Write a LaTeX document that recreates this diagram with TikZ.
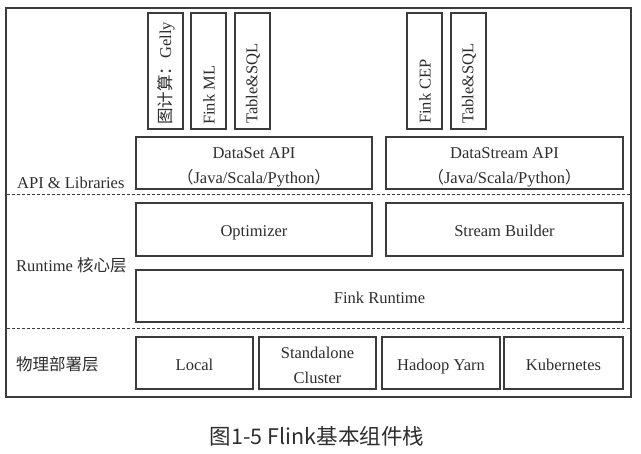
\documentclass[tikz,border=0pt]{standalone}
\usepackage{fontspec}
\setmainfont{Liberation Serif}
\newfontfamily\cjk{Noto Sans CJK SC}
\definecolor{linec}{HTML}{3C3C3C}
\definecolor{textc}{HTML}{2E2E2E}
\begin{document}
\begin{tikzpicture}[x=1pt,y=-1pt,
  box/.style={draw=linec,line width=1.5pt,inner sep=0pt,align=center,text=textc,font=\fontsize{16.5}{25}\selectfont},
  single/.style={text height=18.5pt,text depth=3.5pt},
  txt/.style={inner sep=0pt,align=center,text=textc,font=\fontsize{16.5}{25}\selectfont},
  vtext/.style={rotate=90,anchor=west,inner sep=0pt,text=textc,font=\fontsize{16.5}{18}\selectfont},
  layerlabel/.style={anchor=west,inner sep=0pt,text=textc,font=\fontsize{16.5}{18}\selectfont},
  sep/.style={draw=linec,line width=1pt,dash pattern=on 3pt off 2pt}]
\useasboundingbox (0,0) rectangle (641,454);
\fill[white] (0,0) rectangle (641,454);
% outer frame
\node[box,minimum width=625,minimum height=389] (frame) at (318.5,202.5) {};
% vertical library boxes
\node[box,minimum width=35,minimum height=116] (v1) at (165.5,71) {};
\node[box,minimum width=35,minimum height=116] (v2) at (208.5,71) {};
\node[box,minimum width=35,minimum height=116] (v3) at (252.5,71) {};
\node[box,minimum width=35,minimum height=116] (v4) at (424.5,71) {};
\node[box,minimum width=35,minimum height=116] (v5) at (468.5,71) {};
\node[vtext] (t1) at (166,125) {{\cjk 图计算：}Gelly};
\node[vtext] (t2) at (209,125) {Fink ML};
\node[vtext] (t3) at (253,124) {Table\&SQL};
\node[vtext] (t4) at (425,124) {Fink CEP};
\node[vtext] (t5) at (469,124) {Table\&SQL};
% API layer
\node[box,minimum width=236,minimum height=52] (dataset) at (254,163) {};
\node[txt,yshift=-4pt] (datasett) at (dataset.center)
  {DataSet API\\{\cjk （}Java/Scala/Python{\cjk ）}};
\node[box,minimum width=237,minimum height=52] (datastream) at (504.5,163) {};
\node[txt,yshift=-4pt] (datastreamt) at (datastream.center)
  {DataStream API\\{\cjk （}Java/Scala/Python{\cjk ）}};
% runtime layer
\node[box,single,minimum width=236,minimum height=53] (optimizer) at (254,229.5) {Optimizer};
\node[box,single,minimum width=237,minimum height=53] (streamb) at (504.5,229.5) {Stream Builder};
\node[box,single,minimum width=487,minimum height=52] (runtime) at (379.5,296) {Fink Runtime};
% deployment layer
\node[box,single,minimum width=117,minimum height=52] (local) at (194.5,363) {Local};
\node[box,minimum width=117,minimum height=52] (standalone) at (317.5,363) {};
\node[txt,yshift=-2pt] (standalonet) at (standalone.center) {Standalone\\Cluster};
\node[box,single,minimum width=118,minimum height=52] (hadoop) at (441,363) {Hadoop Yarn};
\node[box,single,minimum width=119,minimum height=52] (kube) at (563.5,363) {Kubernetes};
% separators
\coordinate (s1l) at (7,195); \coordinate (s1r) at (630,195);
\coordinate (s2l) at (7,329); \coordinate (s2r) at (630,329);
\draw[sep] (s1l) -- (s1r);
\draw[sep] (s2l) -- (s2r);
% layer labels
\node[layerlabel] (l1) at (17,183) {API \& Libraries};
\node[layerlabel] (l2) at (16,265) {Runtime {\cjk 核心层}};
\node[layerlabel] (l3) at (16,364) {\cjk 物理部署层};
% caption
\node[inner sep=0pt,text=textc,font=\cjk\fontsize{21.5}{24}\selectfont] (cap) at (317,436) {图1-5 Flink基本组件栈};
\end{tikzpicture}
\end{document}
